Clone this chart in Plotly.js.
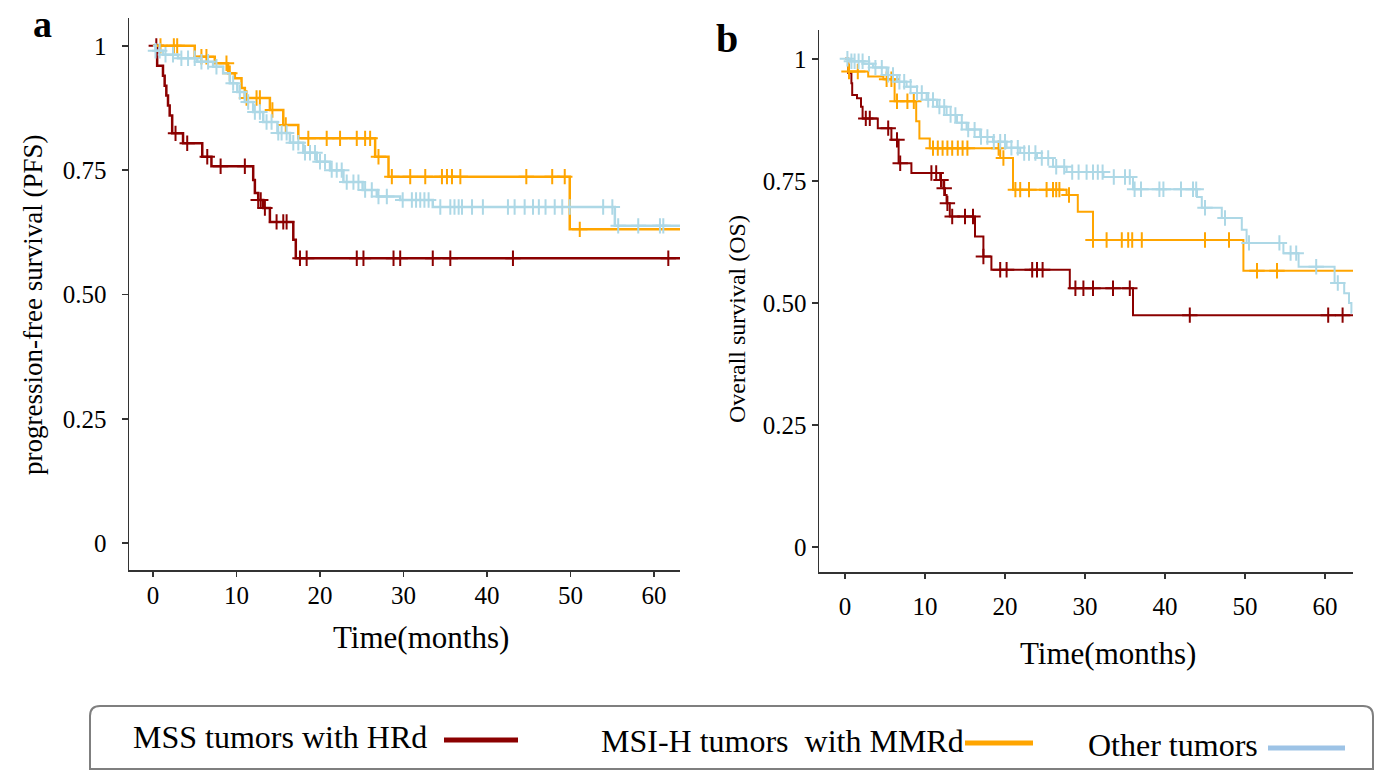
<!DOCTYPE html>
<html>
<head>
<meta charset="utf-8">
<script src="https://cdn.plot.ly/plotly-3.0.1.min.js"></script>
<style>html,body{margin:0;padding:0;background:#fff;}#chart{width:1380px;height:771px;}</style>
</head>
<body>
<div id="chart"></div>
<script>
// ---------- Data ----------
const seriesNames = ["MSS tumors with HRd", "MSI-H tumors\u00a0 with MMRd", "Other tumors"];
const xTicks = [0, 10, 20, 30, 40, 50, 60];
const yTicks = [0, 0.25, 0.5, 0.75, 1];
const yTickText = ["0", "0.25", "0.50", "0.75", "1"];

// Panel a: progression-free survival
const aRedT = [0, 0.5, 1.2, 1.4, 1.6, 1.8, 2.0, 2.3, 3.6, 5.9, 7.0, 12.0, 12.2, 12.6, 13.2, 14.0, 16.8, 17.1];
const aRedS = [1, 0.96, 0.94, 0.92, 0.90, 0.88, 0.86, 0.824, 0.804, 0.777, 0.758, 0.73, 0.704, 0.69, 0.674, 0.646, 0.61, 0.573];
const aRedEnd = 63.1;
const aRedC = [0.4, 2.7, 4.1, 6.5, 8.1, 11.0, 12.6, 12.9, 13.4, 14.8, 15.6, 16.0, 17.6, 18.4, 24.4, 25.2, 28.8, 29.6, 33.5, 35.6, 43.1, 61.7];

const aOrT = [0, 5.0, 7.4, 9.0, 9.8, 10.6, 11.0, 14.0, 15.6, 17.4, 26.6, 28.2, 49.9];
const aOrS = [1, 0.978, 0.965, 0.945, 0.935, 0.915, 0.895, 0.871, 0.841, 0.814, 0.777, 0.737, 0.631];
const aOrEnd = 63.1;
const aOrC = [0.9, 2.5, 2.9, 5.8, 6.4, 8.8, 9.2, 11.2, 12.4, 12.8, 14.3, 15.9, 18.6, 20.8, 22.4, 24.4, 25.4, 26.0, 27.0, 28.6, 30.8, 32.6, 34.6, 35.2, 35.8, 36.8, 44.7, 47.8, 49.3, 51.1];

const aBlT = [0, 0.3, 1.2, 3.0, 5.3, 7.2, 8.4, 9.2, 10.1, 11.0, 12.0, 13.2, 14.9, 16.4, 18.0, 19.6, 21.2, 22.8, 25.1, 26.8, 29.6, 33.5, 55.3];
const aBlS = [1, 0.99, 0.982, 0.975, 0.968, 0.958, 0.945, 0.925, 0.907, 0.887, 0.867, 0.847, 0.825, 0.805, 0.785, 0.767, 0.75, 0.726, 0.71, 0.697, 0.69, 0.676, 0.638];
const aBlEnd = 63.1;
const aBlC = [0.3, 0.8, 1.5, 2.4, 3.4, 4.2, 5.0, 5.8, 6.6, 7.6, 9.6, 10.4, 11.4, 12.2, 12.8, 13.6, 14.2, 15.0, 15.4, 16.0, 16.8, 17.4, 18.2, 18.8, 19.4, 20.0, 20.6, 21.4, 22.0, 22.6, 23.2, 24.0, 24.6, 25.4, 26.2, 27.0, 28.0, 29.9, 31.0, 31.5, 32.0, 32.5, 33.0, 34.4, 35.6, 36.1, 36.6, 37.0, 38.2, 39.5, 42.5, 43.3, 44.5, 45.5, 46.2, 47.0, 48.1, 49.0, 49.9, 53.9, 55.0, 55.7, 58.1, 60.7, 61.1];

// Panel b: overall survival
const bRedT = [0, 0.4, 0.8, 0.9, 1.5, 2.0, 2.2, 4.1, 5.8, 6.7, 8.3, 11.9, 12.3, 12.5, 12.7, 13.1, 16.25, 17.3, 18.3, 28.1, 36.0];
const bRedS = [1, 0.971, 0.95, 0.926, 0.919, 0.902, 0.878, 0.858, 0.834, 0.786, 0.766, 0.752, 0.735, 0.721, 0.704, 0.677, 0.636, 0.595, 0.568, 0.530, 0.475];
const bRedEnd = 63.5;
const bRedC = [2.6, 3.1, 5.4, 6.5, 6.9, 10.8, 11.4, 12.0, 12.4, 12.8, 13.4, 15.0, 16.0, 17.3, 19.4, 20.2, 23.4, 24.0, 24.7, 28.8, 29.8, 31.0, 33.5, 35.6, 43.1, 60.4, 62.2];

const bOrT = [0, 0.4, 2.9, 4.8, 6.2, 8.9, 9.3, 10.6, 19.4, 21.0, 27.7, 29.1, 31.0, 49.8];
const bOrS = [1, 0.974, 0.964, 0.958, 0.913, 0.872, 0.837, 0.817, 0.797, 0.732, 0.721, 0.687, 0.629, 0.566];
const bOrEnd = 63.5;
const bOrC = [0.5, 1.6, 5.2, 5.8, 6.5, 7.8, 8.6, 11.0, 11.6, 12.2, 12.8, 13.4, 14.1, 14.7, 15.3, 19.2, 19.8, 21.3, 21.9, 23.0, 25.2, 26.0, 26.4, 26.8, 28.0, 31.0, 32.7, 34.6, 35.4, 35.9, 37.1, 45.0, 48.0, 51.5, 54.0];

const bBlT = [0, 0.6, 2.3, 3.5, 5.2, 6.5, 7.7, 9.0, 10.2, 11.5, 12.7, 14.0, 15.2, 16.9, 18.5, 20.2, 21.9, 24.0, 26.0, 27.7, 32.3, 36.0, 44.0, 44.6, 47.1, 49.6, 50.2, 54.8, 56.7, 61.2, 62.4, 63.0, 63.3];
const bBlS = [1, 0.995, 0.99, 0.982, 0.967, 0.953, 0.943, 0.93, 0.916, 0.902, 0.885, 0.869, 0.855, 0.84, 0.83, 0.818, 0.807, 0.797, 0.779, 0.768, 0.758, 0.733, 0.717, 0.695, 0.674, 0.65, 0.623, 0.602, 0.574, 0.541, 0.52, 0.50, 0.48];
const bBlEnd = 63.4;
const bBlC = [0.3, 0.8, 1.2, 1.7, 2.2, 3.0, 3.8, 4.6, 5.4, 6.0, 6.8, 7.4, 8.2, 9.0, 9.6, 10.4, 11.0, 11.8, 12.4, 13.2, 13.8, 14.6, 15.4, 16.2, 17.0, 17.8, 18.6, 19.4, 20.0, 20.8, 21.6, 22.4, 23.0, 23.8, 24.6, 25.4, 26.4, 27.4, 28.4, 29.2, 30.2, 31.0, 31.6, 32.2, 33.6, 35.0, 35.6, 36.2, 37.0, 39.3, 39.8, 42.0, 43.5, 43.9, 45.0, 47.5, 50.5, 54.3, 55.7, 56.4, 58.9, 61.6];

// ---------- Styling ----------
const RED = "#8b0000", ORANGE = "#ffa500", BLUE = "#add8e6", LEG_BLUE = "#9dc3e6";
const FONT = "Liberation Serif, Times New Roman, serif";
const W = 1380, H = 771;
const px = x => x / W;
const py = y => 1 - y / H;

function stepAt(T, S, t) {
  let v = S[0];
  for (let i = 0; i < T.length; i++) if (T[i] <= t) v = S[i];
  return v;
}
function curve(T, S, end, C, color, xa, ya, lw) {
  const lx = T.concat([end]);
  const ly = S.concat([S[S.length - 1]]);
  return [
    {x: lx, y: ly, xaxis: xa, yaxis: ya, mode: "lines", line: {shape: "hv", color: color, width: lw}, hoverinfo: "skip", showlegend: false},
    {x: C, y: C.map(t => stepAt(T, S, t)), xaxis: xa, yaxis: ya, mode: "markers",
     marker: {symbol: "cross-thin-open", size: 11, color: color, line: {color: color, width: 2}}, hoverinfo: "skip", showlegend: false}
  ];
}

const data = [].concat(
  curve(aRedT, aRedS, aRedEnd, aRedC, RED, "x", "y", 2.5),
  curve(aOrT, aOrS, aOrEnd, aOrC, ORANGE, "x", "y", 2.5),
  curve(aBlT, aBlS, aBlEnd, aBlC, BLUE, "x", "y", 2.5),
  curve(bRedT, bRedS, bRedEnd, bRedC, RED, "x2", "y2", 2),
  curve(bOrT, bOrS, bOrEnd, bOrC, ORANGE, "x2", "y2", 2),
  curve(bBlT, bBlS, bBlEnd, bBlC, BLUE, "x2", "y2", 2)
);

const axisCommon = {
  showgrid: false, zeroline: false, showline: true, linecolor: "#333", linewidth: 1.5,
  ticks: "outside", tickcolor: "#333", tickwidth: 1.5,
  tickfont: {family: FONT, size: 25, color: "#000"}, fixedrange: true
};

const layout = {
  width: W, height: H, autosize: false,
  margin: {l: 0, r: 0, t: 0, b: 0, pad: 0},
  paper_bgcolor: "#fff", plot_bgcolor: "#fff",
  showlegend: false,
  xaxis: Object.assign({}, axisCommon, {domain: [px(129), px(680)], range: [-2.87, 63.1], anchor: "y", tickvals: xTicks, ticklen: 5, ticklabelstandoff: -3}),
  yaxis: Object.assign({}, axisCommon, {domain: [py(570), py(18)], range: [-0.054, 1.056], anchor: "x", tickvals: yTicks, ticktext: yTickText, ticklen: 6, ticklabelstandoff: 10}),
  xaxis2: Object.assign({}, axisCommon, {domain: [px(819), px(1353)], range: [-3.25, 63.5], anchor: "y2", tickvals: xTicks, ticklen: 5, ticklabelstandoff: 6}),
  yaxis2: Object.assign({}, axisCommon, {domain: [py(572), py(30)], range: [-0.051, 1.059], anchor: "x2", tickvals: yTicks, ticktext: yTickText, ticklen: 6, ticklabelstandoff: 0}),
  shapes: [
    {type: "path", xref: "paper", yref: "paper",
     path: "M " + px(100) + "," + py(706) + " L " + px(1363) + "," + py(706) +
           " Q " + px(1373) + "," + py(706) + " " + px(1373) + "," + py(716) +
           " L " + px(1373) + "," + py(769) + " L " + px(90) + "," + py(769) +
           " L " + px(90) + "," + py(716) + " Q " + px(90) + "," + py(706) + " " + px(100) + "," + py(706) + " Z",
     line: {color: "#7f7f7f", width: 2}, fillcolor: "rgba(0,0,0,0)"},
    {type: "line", xref: "paper", yref: "paper", x0: px(444), x1: px(518), y0: py(740), y1: py(740), line: {color: RED, width: 5}},
    {type: "line", xref: "paper", yref: "paper", x0: px(965), x1: px(1033), y0: py(743), y1: py(743), line: {color: ORANGE, width: 5}},
    {type: "line", xref: "paper", yref: "paper", x0: px(1268), x1: px(1345), y0: py(748), y1: py(748), line: {color: LEG_BLUE, width: 5}}
  ],
  annotations: [
    {text: "<b>a</b>", xref: "paper", yref: "paper", x: px(42), y: py(1), xanchor: "center", yanchor: "top", showarrow: false, font: {family: FONT, size: 38, color: "#000"}},
    {text: "<b>b</b>", xref: "paper", yref: "paper", x: px(727), y: py(38), xanchor: "center", yanchor: "middle", showarrow: false, font: {family: FONT, size: 40, color: "#000"}},
    {text: "progression-free survival (PFS)", xref: "paper", yref: "paper", x: px(33), y: py(305), textangle: -90, xanchor: "center", yanchor: "middle", showarrow: false, font: {family: FONT, size: 27, color: "#000"}},
    {text: "Overall survival (OS)", xref: "paper", yref: "paper", x: px(737), y: py(319), textangle: -90, xanchor: "center", yanchor: "middle", showarrow: false, font: {family: FONT, size: 24, color: "#000"}},
    {text: "Time(months)", xref: "paper", yref: "paper", x: px(421), y: py(637), xanchor: "center", yanchor: "middle", showarrow: false, font: {family: FONT, size: 31, color: "#000"}},
    {text: "Time(months)", xref: "paper", yref: "paper", x: px(1108), y: py(653), xanchor: "center", yanchor: "middle", showarrow: false, font: {family: FONT, size: 31, color: "#000"}},
    {text: seriesNames[0], xref: "paper", yref: "paper", x: px(280), y: py(737), xanchor: "center", yanchor: "middle", showarrow: false, font: {family: FONT, size: 32, color: "#000"}},
    {text: seriesNames[1], xref: "paper", yref: "paper", x: px(782), y: py(741), xanchor: "center", yanchor: "middle", showarrow: false, font: {family: FONT, size: 32, color: "#000"}},
    {text: seriesNames[2], xref: "paper", yref: "paper", x: px(1173), y: py(745), xanchor: "center", yanchor: "middle", showarrow: false, font: {family: FONT, size: 32, color: "#000"}}
  ]
};

Plotly.newPlot("chart", data, layout, {displayModeBar: false, staticPlot: true});
</script>
</body>
</html>
